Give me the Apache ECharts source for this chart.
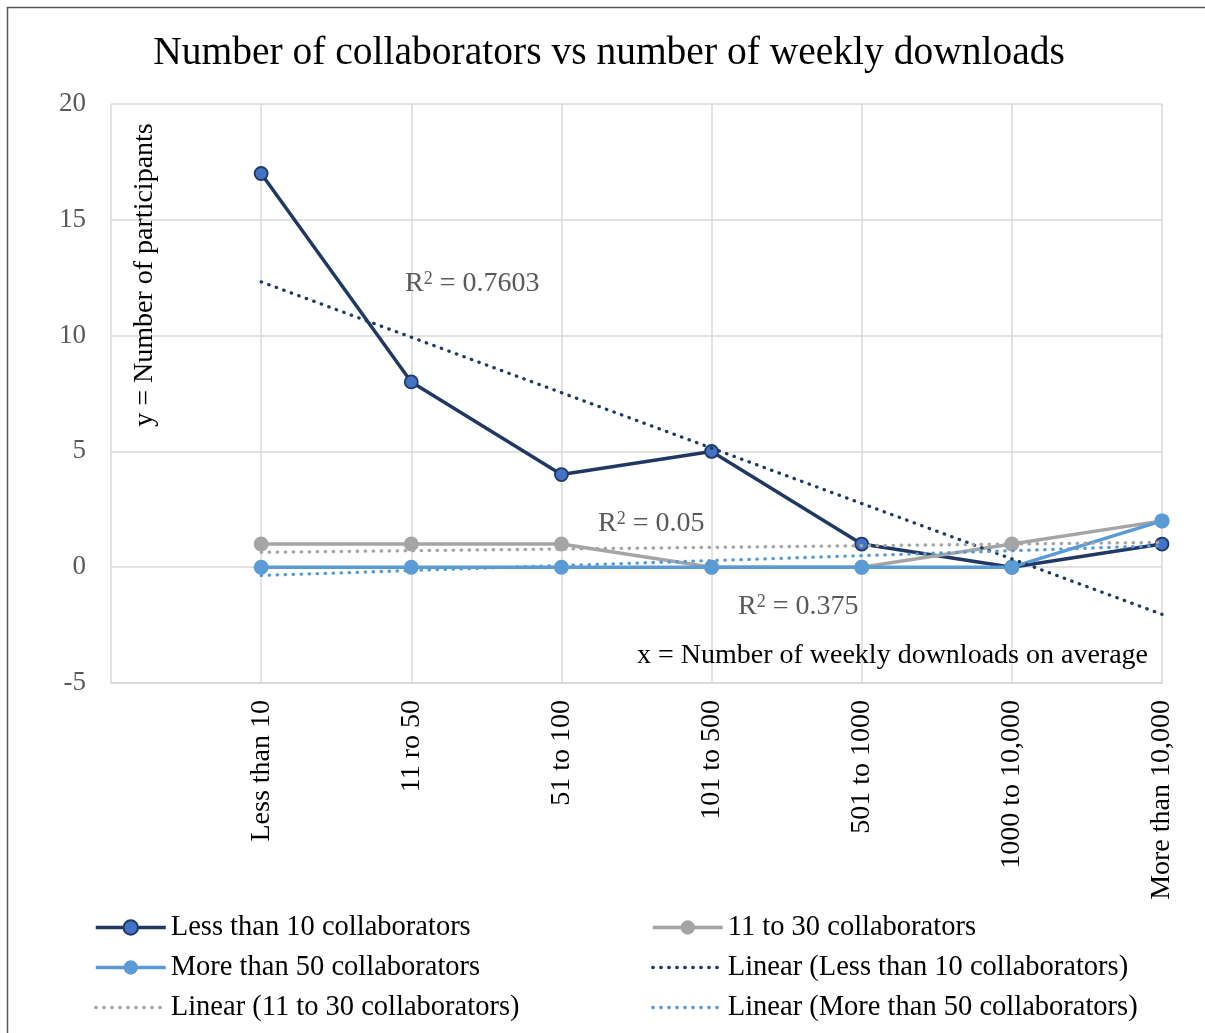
<!DOCTYPE html>
<html>
<head>
<meta charset="utf-8">
<script src="https://cdn.jsdelivr.net/npm/echarts@6/dist/echarts.min.js"></script>
<style>
  html, body { margin: 0; padding: 0; background: #ffffff; }
  #chart { width: 1205px; height: 1033px; }
</style>
</head>
<body>
<div id="chart"></div>
<script>
// Weekly-download bands (x) and number of participants per collaborator group (y)
const downloadBands = ['Less than 10', '11 ro 50', '51 to 100', '101 to 500', '501 to 1000', '1000 to 10,000', 'More than 10,000'];
const lessThan10 = [17, 8, 4, 5, 1, 0, 1];
const from11to30 = [1, 1, 1, 0, 0, 1, 2];
const moreThan50 = [0, 0, 0, 0, 0, 0, 2];
const seriesNames = ['Less than 10 collaborators', '11 to 30 collaborators', 'More than 50 collaborators'];
const rSquared = ['0.7603', '0.05', '0.375'];
const yMin = -5, yMax = 20, yStep = 5;

const FONT = '"Liberation Serif", "DejaVu Serif", serif';

// Least-squares linear trend evaluated at each band (x = 1..n)
function linearTrend(values) {
  const n = values.length;
  const xs = values.map((_, i) => i + 1);
  const mx = xs.reduce((a, b) => a + b, 0) / n;
  const my = values.reduce((a, b) => a + b, 0) / n;
  let sxy = 0, sxx = 0;
  xs.forEach((x, i) => { sxy += (x - mx) * (values[i] - my); sxx += (x - mx) * (x - mx); });
  const slope = sxy / sxx;
  const intercept = my - slope * mx;
  return xs.map(x => intercept + slope * x);
}

// Leading blank slot keeps the first band one step in from the plot edge
const categories = [''].concat(downloadBands);
const pad = arr => ['-'].concat(arr);

const chart = echarts.init(document.getElementById('chart'), null, { renderer: 'canvas' });

function mainSeries(name, values, lineColor, fill, border) {
  return {
    name, type: 'line', data: pad(values),
    symbol: 'circle', symbolSize: border ? 13 : 15, z: 3,
    lineStyle: { color: lineColor, width: 3.5 },
    itemStyle: border ? { color: fill, borderColor: border, borderWidth: 1.8 } : { color: fill, borderWidth: 0 },
    emphasis: { disabled: true }
  };
}
function trendSeries(name, values, color) {
  return {
    name, type: 'line', data: pad(linearTrend(values)),
    symbol: 'none', z: 4,
    lineStyle: { color, width: 3.3, type: [0.5, 7.5], cap: 'round' },
    itemStyle: { color },
    emphasis: { disabled: true }
  };
}

const trendNames = seriesNames.map(n => 'Linear (' + n + ')');
const hiddenMarker = name => ({ name, itemStyle: { opacity: 0 } });

const legendBase = {
  orient: 'vertical', itemWidth: 70, itemHeight: 18, itemGap: 11,
  lineStyle: { width: 'inherit' },
  textStyle: { fontFamily: FONT, fontSize: 28.5, color: '#000', lineHeight: 28 },
  selectedMode: false
};

const rLabel = (txt, x, y) => ({
  type: 'text', x, y, z: 10,
  style: {
    text: 'R{s|2} = ' + txt, fontFamily: FONT, fontSize: 28, fill: '#595959',
    verticalAlign: 'middle', rich: { s: { fontSize: 18, verticalAlign: 'top', fill: '#595959', fontFamily: FONT } }
  }
});

chart.setOption({
  backgroundColor: '#ffffff',
  animation: false,
  grid: { left: 111, right: 43, top: 104, bottom: 350, containLabel: false },
  xAxis: {
    type: 'category', data: categories, boundaryGap: false,
    axisLine: { show: true, onZero: false, lineStyle: { color: '#D9D9D9', width: 1.5 } },
    axisTick: { show: false },
    splitLine: { show: true, lineStyle: { color: '#D9D9D9', width: 1.5 } },
    axisLabel: { interval: 0, rotate: 90, margin: 17, fontFamily: FONT, fontSize: 28, color: '#000' }
  },
  yAxis: {
    type: 'value', min: yMin, max: yMax, interval: yStep,
    axisLine: { show: false }, axisTick: { show: false },
    splitLine: { show: true, lineStyle: { color: '#D9D9D9', width: 1.5 } },
    axisLabel: { margin: 25, fontFamily: FONT, fontSize: 27, color: '#595959' }
  },
  legend: [
    Object.assign({}, legendBase, { left: 89, top: 908,
      data: [seriesNames[0], seriesNames[2], hiddenMarker(trendNames[1])] }),
    Object.assign({}, legendBase, { left: 646, top: 908,
      data: [seriesNames[1], hiddenMarker(trendNames[0]), hiddenMarker(trendNames[2])] })
  ],
  series: [
    mainSeries(seriesNames[0], lessThan10, '#203864', '#4472C4', '#203864'),
    mainSeries(seriesNames[1], from11to30, '#A5A5A5', '#A5A5A5'),
    mainSeries(seriesNames[2], moreThan50, '#5B9BD5', '#5B9BD5'),
    trendSeries(trendNames[0], lessThan10, '#203864'),
    trendSeries(trendNames[1], from11to30, '#A5A5A5'),
    trendSeries(trendNames[2], moreThan50, '#5B9BD5')
  ],
  graphic: [
    { type: 'rect', silent: true, z: -10,
      shape: { x: 7.5, y: 7.5, width: 1240, height: 1060 },
      style: { fill: 'none', stroke: '#595959', lineWidth: 1.5 } },
    { type: 'text', x: 609, y: 54, z: 10,
      style: { text: 'Number of collaborators vs number of weekly downloads', fontFamily: FONT, fontSize: 39.5,
               fill: '#000', align: 'center', verticalAlign: 'middle' } },
    { type: 'text', x: 145, y: 275, rotation: Math.PI / 2, z: 10,
      style: { text: 'y = Number of participants', fontFamily: FONT, fontSize: 28, fill: '#000',
               align: 'center', verticalAlign: 'middle' } },
    { type: 'text', x: 1148, y: 656, z: 10,
      style: { text: 'x = Number of weekly downloads on average', fontFamily: FONT, fontSize: 28, fill: '#000',
               align: 'right', verticalAlign: 'middle' } },
    rLabel(rSquared[0], 405, 284),
    rLabel(rSquared[1], 598, 524),
    rLabel(rSquared[2], 738, 607)
  ]
});
</script>
</body>
</html>
